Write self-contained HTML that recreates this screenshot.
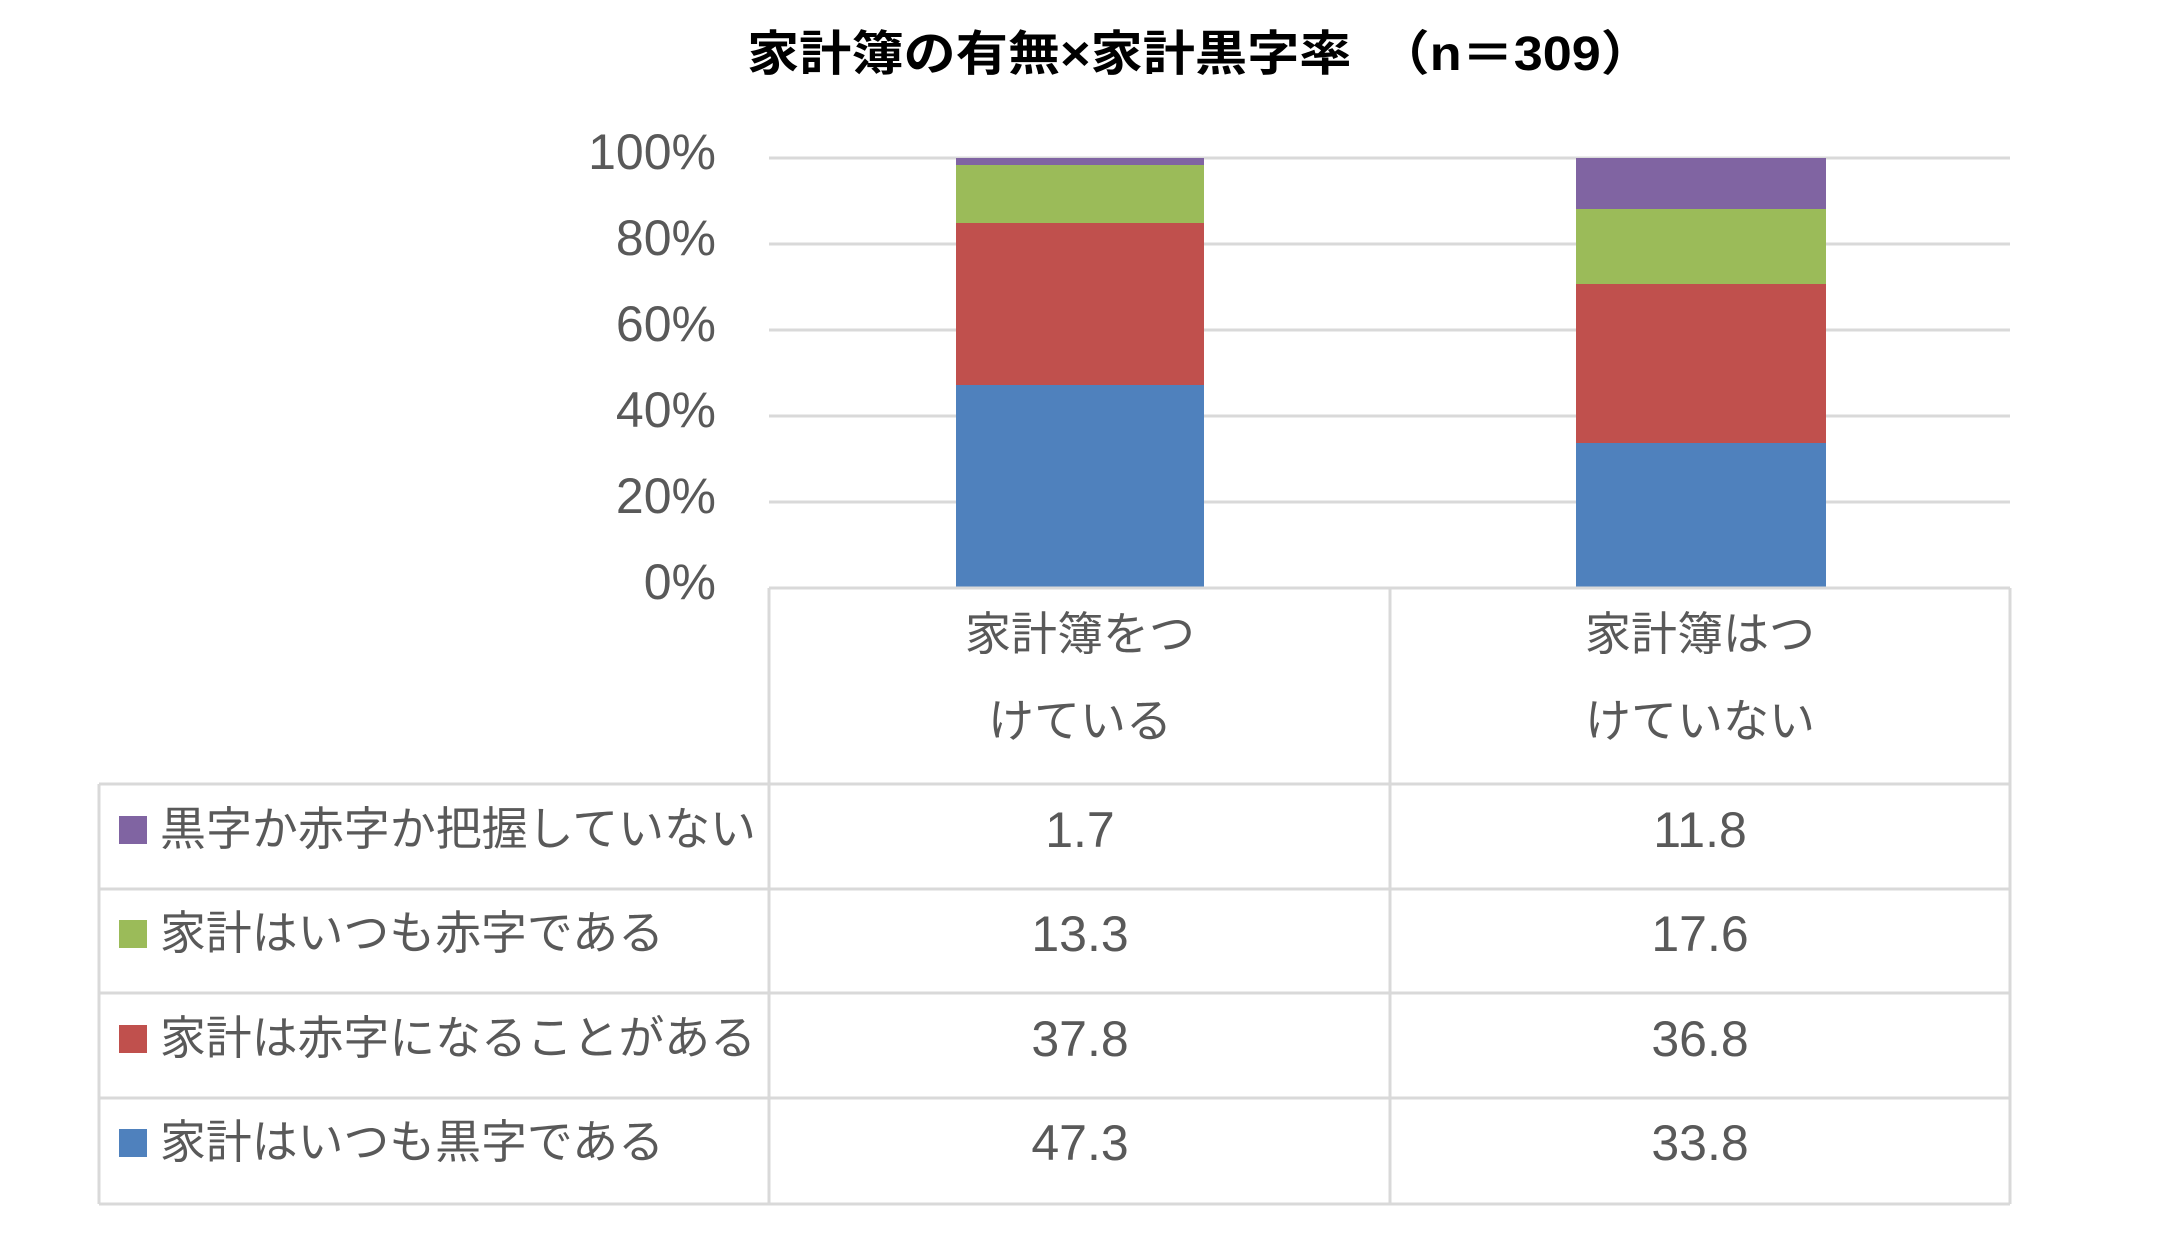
<!DOCTYPE html>
<html><head><meta charset="utf-8"><style>
body{margin:0;background:#fff;width:2157px;height:1243px;overflow:hidden;position:relative;font-family:"Liberation Sans","Noto Sans CJK JP",sans-serif;color:#595959}
.a{position:absolute}
</style></head><body>
<svg class="a" style="left:0;top:0" width="2157" height="1243">
<text x="747" y="70" font-size="48" font-weight="bold" fill="#000" textLength="906" lengthAdjust="spacingAndGlyphs" font-family="Liberation Sans, Noto Sans CJK JP, sans-serif">家計簿の有無×家計黒字率　（n＝309）</text>
<g stroke="#d9d9d9" stroke-width="3">
<line x1="769" x2="2010" y1="158" y2="158"/><line x1="769" x2="2010" y1="244" y2="244"/>
<line x1="769" x2="2010" y1="330" y2="330"/><line x1="769" x2="2010" y1="416" y2="416"/>
<line x1="769" x2="2010" y1="502" y2="502"/>
</g>
<rect x="956" y="385" width="248" height="203" fill="#4f81bd"/>
<rect x="956" y="223" width="248" height="162" fill="#c0504d"/>
<rect x="956" y="165" width="248" height="58" fill="#9bbb59"/>
<rect x="956" y="158" width="248" height="7" fill="#8064a2"/>
<rect x="1576" y="443" width="250" height="145" fill="#4f81bd"/>
<rect x="1576" y="284" width="250" height="159" fill="#c0504d"/>
<rect x="1576" y="209" width="250" height="75" fill="#9bbb59"/>
<rect x="1576" y="158" width="250" height="51" fill="#8064a2"/>
<g stroke="#d9d9d9" stroke-width="3" fill="none">
<line x1="769" x2="2010" y1="588" y2="588"/>
<line x1="769" x2="769" y1="588" y2="1204"/><line x1="1390" x2="1390" y1="588" y2="1204"/><line x1="2010" x2="2010" y1="588" y2="1204"/>
<line x1="99" x2="99" y1="784" y2="1204"/>
<line x1="99" x2="2010" y1="784" y2="784"/><line x1="99" x2="2010" y1="889" y2="889"/>
<line x1="99" x2="2010" y1="993" y2="993"/><line x1="99" x2="2010" y1="1098" y2="1098"/>
<line x1="99" x2="2010" y1="1204" y2="1204"/>
</g>
<rect x="119" y="816" width="28" height="28" fill="#8064a2"/>
<rect x="119" y="920" width="28" height="28" fill="#9bbb59"/>
<rect x="119" y="1025" width="28" height="28" fill="#c0504d"/>
<rect x="119" y="1129" width="28" height="28" fill="#4f81bd"/>
<g font-size="50" fill="#595959" text-anchor="end" font-family="Liberation Sans, sans-serif">
<text x="716" y="169">100%</text><text x="716" y="255">80%</text><text x="716" y="341">60%</text>
<text x="716" y="427">40%</text><text x="716" y="513">20%</text><text x="716" y="599">0%</text>
</g>
<g font-size="46" fill="#595959" font-family="Liberation Sans, Noto Sans CJK JP, sans-serif">
<g text-anchor="middle">
<text x="1080" y="650">家計簿をつ</text><text x="1080" y="737">けている</text>
<text x="1700" y="650">家計簿はつ</text><text x="1700" y="737">けていない</text>
</g>
<g text-anchor="middle" font-size="50">
<text x="1080" y="847">1.7</text><text x="1700" y="847">11.8</text>
<text x="1080" y="951">13.3</text><text x="1700" y="951">17.6</text>
<text x="1080" y="1056">37.8</text><text x="1700" y="1056">36.8</text>
<text x="1080" y="1160">47.3</text><text x="1700" y="1160">33.8</text>
</g>
<text x="160" y="845" textLength="596" lengthAdjust="spacingAndGlyphs">黒字か赤字か把握していない</text>
<text x="160" y="949" textLength="504" lengthAdjust="spacingAndGlyphs">家計はいつも赤字である</text>
<text x="160" y="1054" textLength="596" lengthAdjust="spacingAndGlyphs">家計は赤字になることがある</text>
<text x="160" y="1158" textLength="504" lengthAdjust="spacingAndGlyphs">家計はいつも黒字である</text>
</g>
</svg>
</body></html>
